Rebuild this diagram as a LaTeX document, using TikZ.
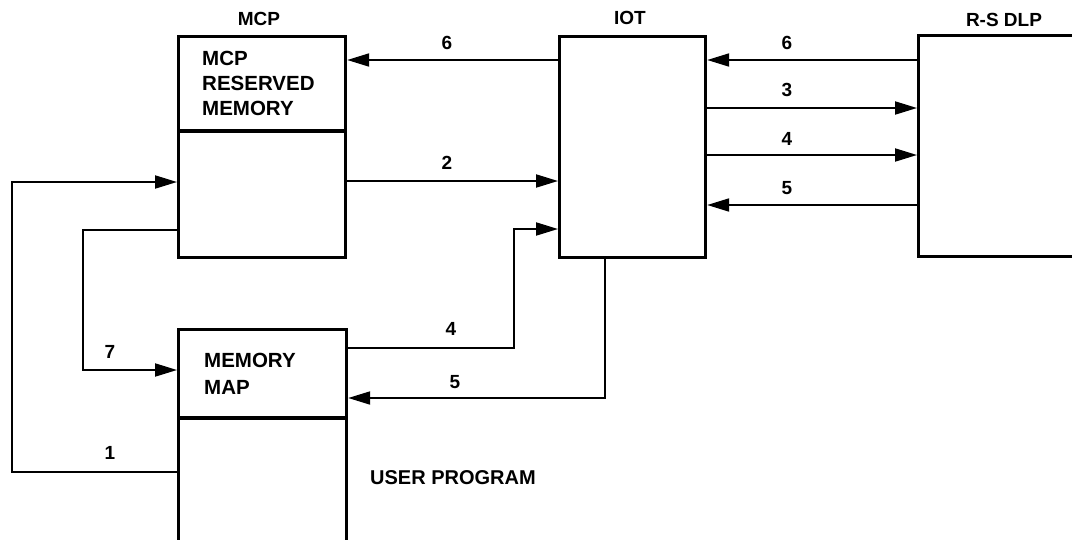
\documentclass[tikz,border=0pt]{standalone}
\usepackage{fontspec}
\setmainfont{Liberation Sans}
\usetikzlibrary{arrows.meta}
\begin{document}
\begin{tikzpicture}[x=1pt,y=-1pt,
  box/.style={draw,line width=3.2pt,inner sep=0pt,anchor=north west},
  arr/.style={line width=2pt,-{Triangle[length=22pt,width=13pt]}},
  lbl/.style={font=\fontsize{19}{22}\selectfont\bfseries,inner sep=0pt},
  txt/.style={font=\fontsize{20.5}{25}\selectfont\bfseries,inner sep=0pt,anchor=west}]
\useasboundingbox (0,0) rectangle (1072,539);
\clip (0,0) rectangle (1072,539);
% boxes
\node[box,minimum width=167pt,minimum height=221pt] (mcp) at (177,35) {};
\node[box,minimum width=146pt,minimum height=221pt] (iot) at (558,35) {};
\node[box,minimum width=180pt,minimum height=221pt] (rs) at (917,34) {};
\node[box,minimum width=168pt,minimum height=240pt] (mem) at (177,328) {};
\draw[line width=3.2pt] (mcp.west |- 0,131) -- (mcp.east |- 0,131);
\draw[line width=3.2pt] (mem.west |- 0,418) -- (mem.east |- 0,418);
% headings
\node[lbl] (hmcp) at (259,19) {MCP};
\node[lbl] (hiot) at (630,18) {IOT};
\node[lbl] (hrs) at (1004,20) {R-S DLP};
% box texts
\node[txt] (t1) at (202,58) {MCP};
\node[txt] (t2) at (202,83) {RESERVED};
\node[txt] (t3) at (202,108) {MEMORY};
\node[txt] (t4) at (204,360) {MEMORY};
\node[txt] (t5) at (204,387) {MAP};
\node[font=\fontsize{20}{24}\selectfont\bfseries,inner sep=0pt,anchor=west] (t6) at (370,478) {USER PROGRAM};
% helper coordinates
\coordinate (y6) at (0,60);
\coordinate (y3) at (0,108);
\coordinate (y4) at (0,155);
\coordinate (y2) at (0,181);
\coordinate (y1) at (0,182);
\coordinate (y5) at (0,205);
\coordinate (y7) at (0,230);
\coordinate (y4b) at (0,229);
\coordinate (ym4) at (0,348);
\coordinate (ym7) at (0,370);
\coordinate (ym5) at (0,398);
\coordinate (ym1) at (0,472);
% connectors
\draw[arr] (iot.west |- y6) -- (mcp.east |- y6);
\draw[arr] (rs.west |- y6) -- (iot.east |- y6);
\draw[arr] (iot.east |- y3) -- (rs.west |- y3);
\draw[arr] (iot.east |- y4) -- (rs.west |- y4);
\draw[arr] (rs.west |- y5) -- (iot.east |- y5);
\draw[arr] (mcp.east |- y2) -- (iot.west |- y2);
\coordinate (c4) at (514,348);
\draw[arr] (mem.east |- ym4) -- (c4) -- (c4 |- y4b) -- (iot.west |- y4b);
\coordinate (c5) at (605,398);
\draw[arr] (c5 |- iot.south) -- (c5) -- (mem.east |- ym5);
\coordinate (c7) at (83,230);
\draw[arr] (mcp.west |- y7) -- (c7) -- (c7 |- ym7) -- (mem.west |- ym7);
\coordinate (c1) at (12,472);
\draw[arr] (mem.west |- ym1) -- (c1) -- (c1 |- y1) -- (mcp.west |- y1);
% numbers
\node[lbl] (n6a) at (447,43) {6};
\node[lbl] (n2) at (447,163) {2};
\node[lbl] (n6b) at (787,43) {6};
\node[lbl] (n3) at (787,90) {3};
\node[lbl] (n4a) at (787,139) {4};
\node[lbl] (n5a) at (787,188) {5};
\node[lbl] (n4b) at (451,329) {4};
\node[lbl] (n5b) at (455,382) {5};
\node[lbl] (n7) at (110,352) {7};
\node[lbl] (n1) at (110,453) {1};
\end{tikzpicture}
\end{document}
